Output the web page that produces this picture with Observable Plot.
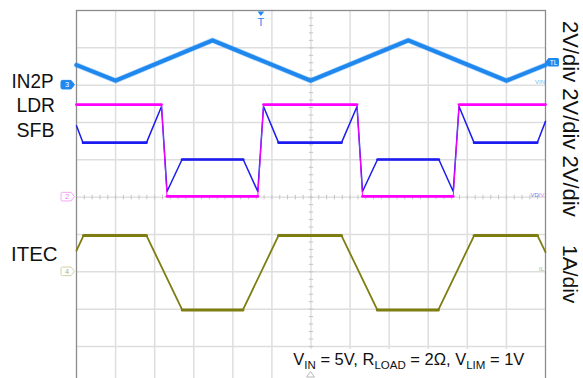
<!DOCTYPE html>
<html><head><meta charset="utf-8">
<script src="https://cdn.jsdelivr.net/npm/d3@7"></script>
<script src="https://cdn.jsdelivr.net/npm/@observablehq/plot@0.6"></script>
<style>
html,body{margin:0;padding:0;background:#fff;overflow:hidden;}
#chart{position:relative;width:583px;height:378px;overflow:hidden;}
svg text{font-family:"Liberation Sans", Arial, sans-serif;}
</style></head><body><div id="chart"></div>
<script>
// Time in screen divisions (12 across), amplitude in screen divisions (10 high, 0 = centre line)
const in2pT = [0, 1.0, 3.48, 5.99, 8.49, 11.0, 12];
const in2pV = [3.54, 3.12, 4.20, 3.12, 4.20, 3.12, 3.54];
const ldrT = [0, 2.175, 2.316, 4.639, 4.785, 7.178, 7.318, 9.639, 9.788, 12];
const ldrV = [2.48, 2.48, 0.02, 0.02, 2.48, 2.48, 0.02, 0.02, 2.48, 2.48];
const sfbT = [0, 0.166, 1.791, 2.175, 2.316, 2.70, 4.266, 4.639, 4.785, 5.169, 6.781, 7.178, 7.318, 7.702, 9.271, 9.639, 9.788, 10.172, 11.789, 12];
const sfbV = [1.91, 1.46, 1.46, 2.43, 0.15, 1.01, 1.01, 0.15, 2.43, 1.46, 1.46, 2.43, 0.15, 1.01, 1.01, 0.15, 2.43, 1.46, 1.46, 2.03];
const itecT = [0, 0.179, 1.791, 2.705, 4.258, 5.169, 6.78, 7.697, 9.258, 10.174, 11.796, 12];
const itecV = [-1.43, -1.03, -1.03, -3.02, -3.02, -1.03, -1.03, -3.02, -3.02, -1.03, -1.03, -1.47];

const channelNames = ["IN2P", "LDR", "SFB", "ITEC"];
const scaleLabels = ["2V/div 2V/div 2V/div", "1A/div"];
const groundChannels = ["3", "2", "4"];
const groundLevels = [3, 0, -2];
const triggerTime = 4.73;
const triggerLevel = 3.6;

const C_IN2P = "#1f88ee", C_LDR = "#ff00ff", C_SFB = "#1c1cf0", C_ITEC = "#7d7d12";

const toPts = (t, v) => t.map((x, i) => ({x, y: v[i]}));
const flats = (pts) => pts.slice(1).map((p, i) => ({x1: pts[i].x, y1: pts[i].y, x2: p.x, y2: p.y})).filter(s => s.y1 === s.y2);

const in2p = toPts(in2pT, in2pV), ldr = toPts(ldrT, ldrV), sfb = toPts(sfbT, sfbV), itec = toPts(itecT, itecV);
const minorT = d3.range(0, 60.5).map(i => i / 5);
const minorV = d3.range(-25, 25.5).map(i => i / 5);
const vTick = {draw(ctx, size) { const r = Math.sqrt(size / Math.PI); ctx.moveTo(0, -r); ctx.lineTo(0, r); }};
const hTick = {draw(ctx, size) { const r = Math.sqrt(size / Math.PI); ctx.moveTo(-r, 0); ctx.lineTo(r, 0); }};

const plot = Plot.plot({
  width: 583, height: 386,
  marginLeft: 76, marginRight: 38, marginTop: 10, marginBottom: 2.7,
  x: {domain: [0, 12], axis: null},
  y: {domain: [-5, 5], axis: null},
  style: {background: "#fff", overflow: "visible"},
  marks: [
    Plot.ruleX(d3.range(1, 12).filter(d => d !== 6), {stroke: "#dedede", strokeWidth: 1.5}),
    Plot.ruleY(d3.range(-4, 5).filter(d => d !== 0), {stroke: "#dedede", strokeWidth: 1.5}),
    Plot.ruleX([6], {stroke: "#d2d2d2", strokeWidth: 1}),
    Plot.ruleY([0], {stroke: "#d2d2d2", strokeWidth: 1}),
    Plot.dot(minorT, {x: d => d, y: () => 0, symbol: vTick, r: 2.2, stroke: "#c4c4c4", strokeWidth: 1}),
    Plot.dot(minorV, {x: () => 6, y: d => d, symbol: hTick, r: 2.2, stroke: "#c4c4c4", strokeWidth: 1}),
    Plot.frame({stroke: "#8c8c8c", strokeWidth: 1.3}),
    // IN2P
    Plot.line(in2p, {x: "x", y: "y", stroke: C_IN2P, strokeWidth: 5.4, strokeOpacity: 0.35}),
    Plot.line(in2p, {x: "x", y: "y", stroke: C_IN2P, strokeWidth: 4}),
    // ITEC
    Plot.line(itec, {x: "x", y: "y", stroke: C_ITEC, strokeWidth: 1.8}),
    Plot.link(flats(itec), {x1: "x1", y1: "y1", x2: "x2", y2: "y2", stroke: C_ITEC, strokeWidth: 3, strokeLinecap: "round"}),
    // SFB
    Plot.line(sfb, {x: "x", y: "y", stroke: C_SFB, strokeWidth: 1.5}),
    Plot.link(flats(sfb), {x1: "x1", y1: "y1", x2: "x2", y2: "y2", stroke: C_SFB, strokeWidth: 2.6, strokeLinecap: "round"}),
    // LDR
    Plot.line(ldr, {x: "x", y: "y", stroke: C_LDR, strokeWidth: 1}),
    Plot.link(flats(ldr), {x1: "x1", y1: "y1", x2: "x2", y2: "y2", stroke: C_LDR, strokeWidth: 2.8, strokeLinecap: "round"})
  ]
});
document.getElementById("chart").appendChild(plot);

const X = plot.scale("x"), Y = plot.scale("y");
const sx = v => X.apply(v), sy = v => Y.apply(v);
const svg = d3.select(plot);
const font = "'Liberation Sans', Arial, sans-serif";
const txt = (x, y, size, fill, anchor) => svg.append("text").attr("x", x).attr("y", y).attr("font-size", size)
  .attr("fill", fill).attr("text-anchor", anchor || "start").style("font-family", font);

// left channel labels (x, baseline, width)
const leftPos = [[11.5, 88.3, 42], [16.5, 111.7, 38.5], [16.5, 136.7, 38], [11, 260.7, 46.5]];
channelNames.forEach((n, i) => txt(leftPos[i][0], leftPos[i][1], 21, "#111", "start")
  .attr("textLength", leftPos[i][2]).attr("lengthAdjust", "spacingAndGlyphs").text(n));

// right rotated scale labels
svg.append("text").attr("transform", `translate(562.5,21) rotate(90)`).attr("text-anchor", "start").attr("font-size", 22).attr("fill", "#111").style("font-family", font).text(scaleLabels[0]);
svg.append("text").attr("transform", `translate(562.5,245) rotate(90)`).attr("text-anchor", "start").attr("font-size", 21).attr("fill", "#111").style("font-family", font).text(scaleLabels[1]);

// ground markers
const gStyles = [{fill: C_IN2P, stroke: C_IN2P, text: "#fff"}, {fill: "#fff", stroke: "#f3a6f3", text: "#f07df0"}, {fill: "#fff", stroke: "#d2d2a4", text: "#b4b474"}];
groundChannels.forEach((c, i) => {
  const y = sy(groundLevels[i]), xr = sx(0) - 1.5;
  const st = gStyles[i];
  svg.append("path").attr("d", `M${xr - 12},${y - 4.3} h8.5 l3.5,4.3 l-3.5,4.3 h-8.5 q-1.5,0 -1.5,-1.5 v-5.6 q0,-1.5 1.5,-1.5 z`)
    .attr("fill", st.fill).attr("stroke", st.stroke).attr("stroke-width", 1);
  txt(xr - 7.5, y + 2.6, 7.5, st.text, "middle").text(c);
});

// trigger level marker (right)
{
  const y = sy(triggerLevel), x = sx(12);
  svg.append("path").attr("d", `M${x},${y} l3.5,-4.3 h9 q1.5,0 1.5,1.5 v5.6 q0,1.5 -1.5,1.5 h-9 z`).attr("fill", C_IN2P);
  txt(x + 8.5, y + 2.3, 6.5, "#fff", "middle").text("TL");
}
// trigger time marker (top)
{
  const x = sx(triggerTime);
  svg.append("path").attr("d", `M${x - 3.3},11.5 h6.6 l-3.3,4.5 z`).attr("fill", C_IN2P);
  txt(x, 26, 11, C_IN2P, "middle").text("T");
}
// tiny channel tags
txt(535, 83.5, 6, "#79b6f2").text("VIN");
{
  const t = txt(530.5, 196.5, 6, "#7a7af2");
  t.append("tspan").attr("fill", "#7a7af2").text("VD");
  t.append("tspan").attr("fill", "#f27af2").text("IV");
}
txt(539, 270.5, 6, "#b4b46a").text("IL");

// condition annotation with white backing
svg.append("rect").attr("x", 283).attr("y", 349).attr("width", 254).attr("height", 40).attr("fill", "#fff");
{
  const t = txt(293.3, 365, 16.5, "#111");
  const parts = [["V", 0], ["IN", 1], [" = 5V, R", 0], ["LOAD", 1], [" = 2Ω, V", 0], ["LIM", 1], [" = 1V", 0]];
  parts.forEach(([s, sub], i) => {
    const sp = t.append("tspan").text(s);
    if (sub) sp.attr("font-size", 11.5).attr("dy", 3.5);
    else if (i > 0) sp.attr("dy", -3.5);
  });
}
// trigger position marker (bottom)
{
  const x = sx(6);
  svg.append("path").attr("d", `M${x - 4},377 L${x},371.5 L${x + 4},377 z`).attr("fill", "#fff").attr("stroke", "#b8b8b8").attr("stroke-width", 1);
}
</script></body></html>
